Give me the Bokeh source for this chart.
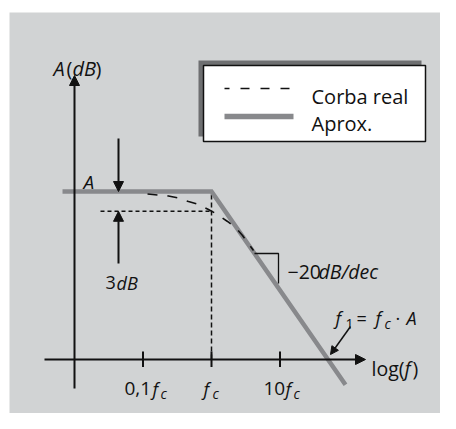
from bokeh.plotting import figure
from bokeh.models import Range1d, Label, Arrow, NormalHead
from bokeh.embed import file_html
from bokeh.resources import INLINE

# ---------------- data (x: decades relative to fc, y: dB) ----------------
tick_decades = [-1, 0, 1]
tick_numbers = ["0,1", "", "10"]
A_DB = 34
SLOPE_DB_PER_DEC = -20
approx_x = [-2.175, 0.0, 1.956]
approx_y = [34.0, 34.0, -5.1]
real_x = [-0.934, -0.788, -0.628, -0.482, -0.336, -0.190, -0.044, 0.088,
          0.234, 0.350, 0.453, 0.526, 0.613]
real_y = [33.50, 33.30, 33.10, 32.69, 31.98, 31.38, 30.36, 29.35,
          27.94, 26.72, 25.10, 23.68, 22.06]
level_3db = 30.0
legend_labels = ["Corba real", "Aprox."]

# ---------------- layout helpers (reference pixel -> data) ----------------
FC_PX, DEC_PX = 211.0, 68.5
ZERO_PX, DB_PX = 359.0, 4.94


def dx(px):
    return (px - FC_PX) / DEC_PX


def dy(py):
    return (ZERO_PX - py) / DB_PX


FONT = "Open Sans"
INK = "#111111"
GRAY = "#88898c"
SHADOW = "#6e6f71"
BG = "#d1d3d4"

p = figure(width=440, height=413, output_backend="svg", toolbar_location=None,
           x_axis_type=None, y_axis_type=None,
           x_range=Range1d(dx(9), dx(440)), y_range=Range1d(dy(413), dy(12)),
           min_border_left=9, min_border_right=0, min_border_top=12, min_border_bottom=0)
p.background_fill_color = BG
p.border_fill_color = "white"
p.outline_line_color = None
p.xgrid.visible = False
p.ygrid.visible = False


def lab(px, py, text, size=19, italic=False):
    p.add_layout(Label(x=dx(px), y=dy(py), text=text, text_font=FONT,
                       text_font_size=f"{size}px",
                       text_font_style="italic" if italic else "normal",
                       text_align="left", text_baseline="alphabetic",
                       text_color=INK))


def head(size=10):
    return NormalHead(size=size, fill_color=INK, line_color=INK, line_width=1)


# ---------------- axes with arrows ----------------
p.add_layout(Arrow(x_start=-2.0, y_start=dy(388), x_end=-2.0, y_end=dy(75),
                   line_width=2, line_color=INK, end=head(10)))
p.add_layout(Arrow(x_start=dx(44), y_start=0, x_end=dx(365), y_end=0,
                   line_width=2, line_color=INK, end=head(10)))
for t in tick_decades:
    p.line([t, t], [1.6, -1.5], line_width=2, line_color=INK)

# ---------------- guides ----------------
p.line([dx(100), 0], [level_3db, level_3db], line_width=1.5, line_color=INK, line_dash="4 3")
p.line([0, 0], [0, A_DB], line_width=1.5, line_color=INK, line_dash="5 3")

# ---------------- curves ----------------
p.line(approx_x, approx_y, line_width=4.5, line_color=GRAY, line_join="miter")
p.line(real_x, real_y, line_width=1.6, line_color=INK, line_dash="10 10")

# slope marker
x_top = (dy(253) - A_DB) / SLOPE_DB_PER_DEC
p.line([x_top, dx(278), dx(278)], [dy(253), dy(253), dy(283)], line_width=1.3, line_color=INK)

# ---------------- 3 dB arrows ----------------
ax = dx(118)
p.add_layout(Arrow(x_start=ax, y_start=dy(138), x_end=ax, y_end=A_DB,
                   line_width=2, line_color=INK, end=head(10)))
p.add_layout(Arrow(x_start=ax, y_start=dy(263), x_end=ax, y_end=level_3db,
                   line_width=2, line_color=INK, end=head(10)))

# f1 pointer
p.add_layout(Arrow(x_start=dx(350), y_start=dy(326), x_end=dx(330), y_end=dy(354),
                   line_width=1.5, line_color=INK, end=head(8)))

# ---------------- legend ----------------
p.quad(left=dx(198), right=dx(421), top=dy(60), bottom=dy(136),
       fill_color=SHADOW, line_color=None)
p.quad(left=dx(203), right=dx(425), top=dy(65), bottom=dy(141),
       fill_color="white", line_color=INK, line_width=1.5)
p.line([dx(224), dx(293)], [dy(88), dy(88)], line_width=1.5, line_color=INK,
       line_dash="9 11", line_dash_offset=4)
p.line([dx(224), dx(293)], [dy(116), dy(116)], line_width=5.5, line_color=GRAY)
lab(311, 95.5, legend_labels[0], 20)
lab(311, 123, legend_labels[1], 20)

# ---------------- texts ----------------
# A(dB)
lab(53, 68, "A", 20, True)
lab(66, 68, "(", 20)
lab(72, 68, "dB", 20, True)
lab(95, 68, ")", 20)
# A
lab(83, 181, "A", 19, True)
# 3dB
lab(105, 282, "3", 18)
lab(116, 282, "dB", 18, True)
# -20dB/dec
lab(287, 271, "\u221220", 19.5)
lab(318, 271, "dB/dec", 19.5, True)
# f1 = fc . A
lab(335, 317, "f", 18, True)
lab(345, 323, "1", 14)
lab(356, 317, "=", 18)
lab(375, 317, "f", 18, True)
lab(384, 323, "c", 14, True)
lab(395, 317, "\u00b7", 18)
lab(406, 317, "A", 18, True)
# log(f)
lab(371, 368, "log(", 19.5)
lab(404, 368, "f", 19.5, True)
lab(412, 368, ")", 19.5)
# tick labels
lab(124, 388, tick_numbers[0], 19)
lab(152, 388, "f", 18, True)
lab(160, 393, "c", 14, True)
lab(203, 388, "f", 18, True)
lab(212, 393, "c", 14, True)
lab(263, 388, tick_numbers[2], 19)
lab(285, 388, "f", 18, True)
lab(293, 393, "c", 14, True)

open("out.html", "w").write(file_html(p, INLINE))
